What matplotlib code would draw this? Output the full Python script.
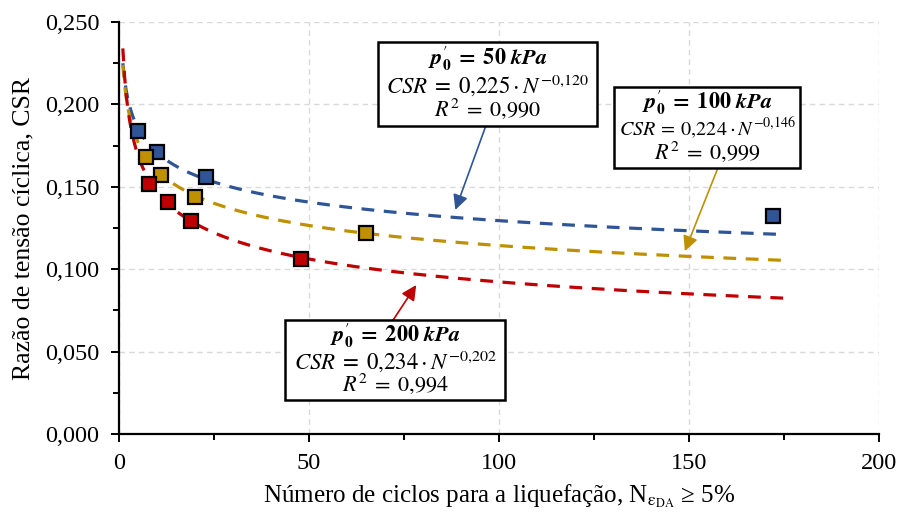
import numpy as np
import matplotlib
matplotlib.use("Agg")
import matplotlib.pyplot as plt
from matplotlib.patches import Rectangle
from matplotlib.ticker import MultipleLocator, FuncFormatter

plt.rcParams['font.family'] = ['Liberation Serif', 'DejaVu Serif']
plt.rcParams['mathtext.fontset'] = 'stix'

# Data points (N cycles, CSR)
n_50 = [5, 10, 23, 172]
csr_50 = [0.184, 0.171, 0.156, 0.132]
n_100 = [7, 11, 20, 65]
csr_100 = [0.168, 0.157, 0.144, 0.122]
n_200 = [8, 13, 19, 48]
csr_200 = [0.152, 0.141, 0.129, 0.106]

# Fit coefficients (CSR = a * N^-b)
fit_a = [0.225, 0.224, 0.234]
fit_b = [0.120, 0.146, 0.202]
fit_r2 = ["0,990", "0,999", "0,994"]
pressures = ["50", "100", "200"]

colors = ["#2F5597", "#BF9000", "#C00000"]

fig = plt.figure(figsize=(8.99, 5.13), dpi=100)
ax = fig.add_axes([0.1324, 0.154, 0.8454, 0.803])

ncurve = np.linspace(1, 175, 400)
for a, b, c in zip(fit_a, fit_b, colors):
    ax.plot(ncurve, a * ncurve ** (-b), ls=(0, (4, 3)), color=c, lw=2.3, zorder=3)

for xs, ys, c in zip([n_50, n_100, n_200], [csr_50, csr_100, csr_200], colors):
    ax.plot(xs, ys, ls='none', marker='s', ms=10.5, mfc=c, mec='black', mew=1.6, zorder=4)

ax.set_xlim(0, 200)
ax.set_ylim(0, 0.25)
ax.xaxis.set_major_locator(MultipleLocator(50))
ax.xaxis.set_minor_locator(MultipleLocator(25))
ax.yaxis.set_major_locator(MultipleLocator(0.05))
ax.yaxis.set_minor_locator(MultipleLocator(0.025))
ax.yaxis.set_major_formatter(FuncFormatter(lambda v, p: f"{v:.3f}".replace('.', ',')))
ax.xaxis.set_major_formatter(FuncFormatter(lambda v, p: f"{v:.0f}"))

ax.grid(True, which='major', color='#D9D9D9', ls=(0, (4, 3)), lw=1.0)
ax.set_axisbelow(True)
for s in ['top', 'right']:
    ax.spines[s].set_visible(False)
for s in ['left', 'bottom']:
    ax.spines[s].set_linewidth(1.6)
ax.tick_params(axis='both', which='major', direction='out', length=6, width=1.4, labelsize=17.5, pad=8)
ax.tick_params(axis='both', which='minor', direction='out', length=4, width=1.4)

ax.set_ylabel("Razão de tensão cíclica, CSR", fontsize=18.5, labelpad=8)
ax.set_xlabel(r"Número de ciclos para a liquefação, N$_{\mathrm{\varepsilon}_{\mathrm{DA}}}$ ≥ 5%", fontsize=18, labelpad=6)

# Annotation boxes (x0, x1, y0, y1 in data units) and arrows
boxes = [(68.2, 125.8, 0.1869, 0.2379), (130.3, 179.2, 0.1614, 0.2106), (43.7, 101.6, 0.0206, 0.0692)]
eq_sizes = [16.5, 14.5, 16.5]
arrow_tail = [(96.6, 0.1875), (157.9, 0.1632), (71.8, 0.0680)]
arrow_head = [(88.5, 0.1360), (148.9, 0.1110), (78.2, 0.0904)]

for (x0, x1, y0, y1), p, a, b, r2, c, t, h, es in zip(boxes, pressures, fit_a, fit_b, fit_r2, colors,
                                                       arrow_tail, arrow_head, eq_sizes):
    ax.annotate("", xy=h, xytext=t,
                arrowprops=dict(arrowstyle='-|>,head_length=0.9,head_width=0.45', color=c, lw=1.2,
                                shrinkA=0, shrinkB=0), zorder=5)
    ax.add_patch(Rectangle((x0, y0), x1 - x0, y1 - y0, fc='white', ec='black', lw=1.8, zorder=6, clip_on=False))
    cx = (x0 + x1) / 2
    hgt = y1 - y0
    sp = r"\;" if es > 15 else r"\:"
    title = r"$\mathbfit{p}^{\prime}_{\mathbf{0}}\;\mathbf{=}\;\mathbf{" + p + r"}\ \mathbfit{kPa}$"
    eq = (r"$CSR" + sp + "=" + sp + f"{a:.3f}".replace('.', '{,}') + r"\cdot N^{-" +
          f"{b:.3f}".replace('.', '{,}') + r"}$")
    r2t = r"$R^{2}\;=\;" + r2.replace(',', '{,}') + r"$"
    ax.text(cx, y1 - 0.20 * hgt, title, ha='center', va='center', fontsize=16, zorder=7)
    ax.text(cx, y1 - 0.51 * hgt, eq, ha='center', va='center', fontsize=es, zorder=7)
    ax.text(cx, y1 - 0.80 * hgt, r2t, ha='center', va='center', fontsize=16, zorder=7)

fig.savefig("out.png", dpi=100)
